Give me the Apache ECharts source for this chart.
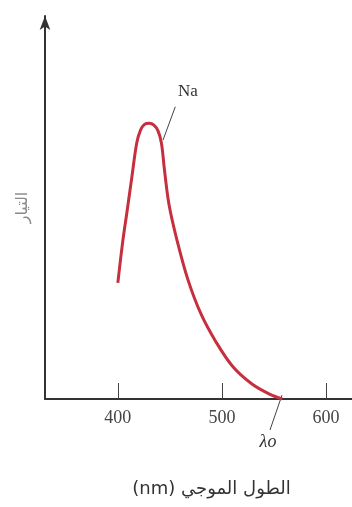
<!DOCTYPE html>
<html>
<head>
<meta charset="utf-8">
<script src="https://cdn.jsdelivr.net/npm/echarts@6/dist/echarts.min.js"></script>
<style>
  html, body { margin: 0; padding: 0; background: #fff; }
  #chart { width: 352px; height: 507px; }
</style>
</head>
<body>
<div id="chart"></div>
<script>
// wavelength (nm) and photo current
const wavelengths = [400, 404.5, 409, 413.5, 418.1, 421.8, 425.6, 430.2, 434.7, 438.6, 441.9, 444.8, 449.2, 456.8, 467.4, 479.9, 494.3, 510.6, 528.9, 546.2, 558];
const current = [30.3, 40.7, 49.3, 58, 66.8, 70.2, 71.7, 72, 71.5, 70, 66.8, 59.8, 50.7, 41.5, 31.1, 22.2, 14.9, 8.4, 3.9, 1.2, 0];
const tickValues = [400, 500, 600];

// annotation anchors in data units
const naLeader = [[443.4, 67.6], [455.2, 76.3]];
const naLabel = [467.4, 80.4];
const cutoffLeader = [[557.7, 1], [546.2, -8.1]];
const cutoffLabel = [544.3, -11.4];

const chart = echarts.init(document.getElementById('chart'));

chart.setOption({
    animation: false,
    backgroundColor: '#fff',
    grid: { left: 45, right: 0, top: 16, bottom: 108 },
    xAxis: {
        type: 'value',
        min: 330,
        max: 625,
        name: '\u202Bالطول الموجي (nm)\u202C',
        nameLocation: 'middle',
        nameGap: 81,
        nameTextStyle: { fontFamily: 'DejaVu Sans', fontSize: 18, color: '#333', padding: [0, 0, 0, 26] },
        axisLine: { lineStyle: { color: '#333', width: 2 } },
        axisTick: { inside: true, length: 16, customValues: tickValues, lineStyle: { color: '#444', width: 1 } },
        axisLabel: { customValues: tickValues, margin: 10, fontFamily: 'Liberation Serif', fontSize: 18, color: '#444' },
        splitLine: { show: false }
    },
    yAxis: {
        type: 'value',
        min: 0,
        max: 100,
        name: 'التيار',
        nameLocation: 'middle',
        nameRotate: 90,
        nameGap: 14,
        nameTextStyle: { fontFamily: 'DejaVu Sans', fontSize: 16, color: '#8a8a8a' },
        axisLine: { show: true, symbol: ['none', 'arrow'], symbolSize: [8, 14], lineStyle: { color: '#333', width: 2 } },
        axisTick: { show: false },
        axisLabel: { show: false },
        splitLine: { show: false }
    },
    series: [{
        type: 'line',
        data: wavelengths.map((w, i) => [w, current[i]]),
        smooth: 0.35,
        showSymbol: false,
        lineStyle: { color: '#c52f3e', width: 3 },
        markLine: {
            silent: true,
            symbol: 'none',
            label: { show: false },
            lineStyle: { color: '#444', width: 1, type: 'solid' },
            data: [
                [{ coord: naLeader[0] }, { coord: naLeader[1] }]
            ]
        },
        markPoint: {
            silent: true,
            symbol: 'circle',
            symbolSize: 0,
            label: { show: true, position: 'inside', fontFamily: 'Liberation Serif', fontSize: 17, color: '#333' },
            data: [
                { coord: naLabel, label: { formatter: 'Na' } }
            ]
        }
    }]
});

// the cut-off note sits below the axis, outside the grid, so place it through the axis scales
const a = chart.convertToPixel({ gridIndex: 0 }, cutoffLeader[0]);
const b = chart.convertToPixel({ gridIndex: 0 }, cutoffLeader[1]);
const t = chart.convertToPixel({ gridIndex: 0 }, cutoffLabel);
chart.setOption({
    graphic: [
        {
            type: 'line',
            silent: true,
            shape: { x1: a[0], y1: a[1], x2: b[0], y2: b[1] },
            style: { stroke: '#444', lineWidth: 1 }
        },
        {
            type: 'text',
            silent: true,
            x: t[0],
            y: t[1],
            style: {
                text: 'λo',
                font: 'italic 18px "Liberation Serif"',
                fill: '#333',
                align: 'center',
                verticalAlign: 'middle'
            }
        }
    ]
});
</script>
</body>
</html>
